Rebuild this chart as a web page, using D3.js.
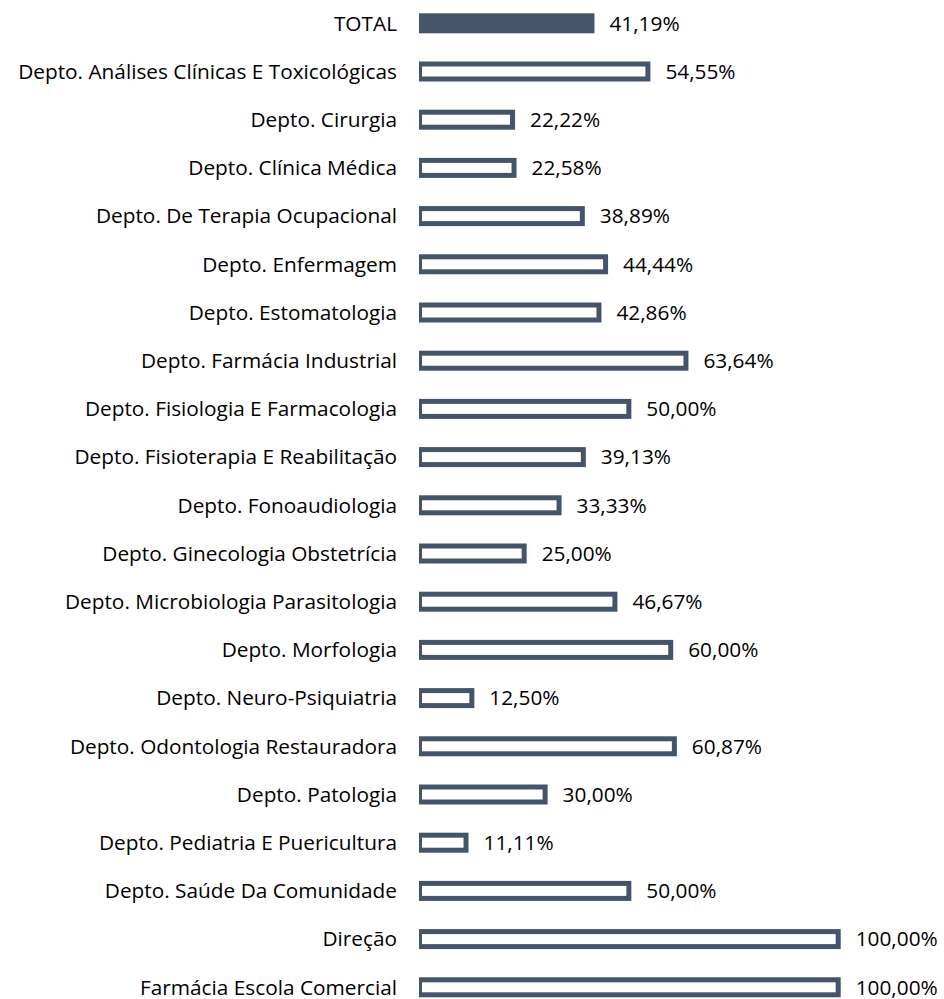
<!DOCTYPE html>
<html>
<head>
<meta charset="utf-8">
<script src="https://cdn.jsdelivr.net/npm/d3@7"></script>
<style>
  body { margin: 0; background: #fff; }
  text { font-family: "Open Sans", "Noto Sans", sans-serif; fill: #000; }
</style>
</head>
<body>
<div id="chart"></div>
<script>
// categories, top to bottom
const categories = [
  "TOTAL",
  "Depto. Análises Clínicas E Toxicológicas",
  "Depto. Cirurgia",
  "Depto. Clínica Médica",
  "Depto. De Terapia Ocupacional",
  "Depto. Enfermagem",
  "Depto. Estomatologia",
  "Depto. Farmácia Industrial",
  "Depto. Fisiologia E Farmacologia",
  "Depto. Fisioterapia E Reabilitação",
  "Depto. Fonoaudiologia",
  "Depto. Ginecologia Obstetrícia",
  "Depto. Microbiologia Parasitologia",
  "Depto. Morfologia",
  "Depto. Neuro-Psiquiatria",
  "Depto. Odontologia Restauradora",
  "Depto. Patologia",
  "Depto. Pediatria E Puericultura",
  "Depto. Saúde Da Comunidade",
  "Direção",
  "Farmácia Escola Comercial"
];

// percentages
const values = [
  41.19, 54.55, 22.22, 22.58, 38.89, 44.44, 42.86, 63.64, 50.00, 39.13,
  33.33, 25.00, 46.67, 60.00, 12.50, 60.87, 30.00, 11.11, 50.00, 100.00, 100.00
];

const data = categories.map((c, i) => ({ name: c, value: values[i], total: i === 0 }));

const width = 944, height = 999;
const barColor = "#44546a";
const strokeW = 5;

const svg = d3.select("#chart").append("svg")
  .attr("width", width)
  .attr("height", height);

// x scale: 0..100%
const x = d3.scaleLinear().domain([0, 100]).range([419.5, 838.2]);

// y scale: band per category
const step = 48.2;
const y = d3.scaleBand()
  .domain(categories)
  .range([23.3 - step / 2, 23.3 - step / 2 + step * categories.length])
  .paddingInner(0);

const fmt = v => d3.format(".2f")(v).replace(".", ",") + "%";

// clip so the left edge of the stroke is cut at the axis
svg.append("clipPath").attr("id", "plotclip")
  .append("rect")
  .attr("x", 419).attr("y", 0)
  .attr("width", width - 419).attr("height", height);

const barH = 15;

svg.append("g")
  .attr("clip-path", "url(#plotclip)")
  .selectAll("rect")
  .data(data)
  .enter().append("rect")
  .attr("x", x(0))
  .attr("y", d => y(d.name) + y.bandwidth() / 2 - barH / 2)
  .attr("width", d => x(d.value) - x(0))
  .attr("height", barH)
  .style("fill", d => d.total ? barColor : "#fff")
  .style("stroke", barColor)
  .style("stroke-width", strokeW);

// category labels
const labels = svg.append("g")
  .selectAll("text")
  .data(data)
  .enter().append("text")
  .attr("x", 397)
  .attr("y", d => y(d.name) + y.bandwidth() / 2)
  .attr("dy", "0.35em")
  .attr("text-anchor", "end")
  .style("font-size", "16px")
  .text(d => d.name);

// fit font size so the longest label spans the same width as the original
const longest = d3.max(labels.nodes(), n => n.getComputedTextLength());
const fontSize = 16 * 379 / longest;
labels.style("font-size", fontSize + "px");

// value labels
svg.append("g")
  .selectAll("text")
  .data(data)
  .enter().append("text")
  .attr("x", d => x(d.value) + strokeW / 2 + 15)
  .attr("y", d => y(d.name) + y.bandwidth() / 2)
  .attr("dy", "0.35em")
  .style("font-size", fontSize + "px")
  .text(d => fmt(d.value));
</script>
</body>
</html>
